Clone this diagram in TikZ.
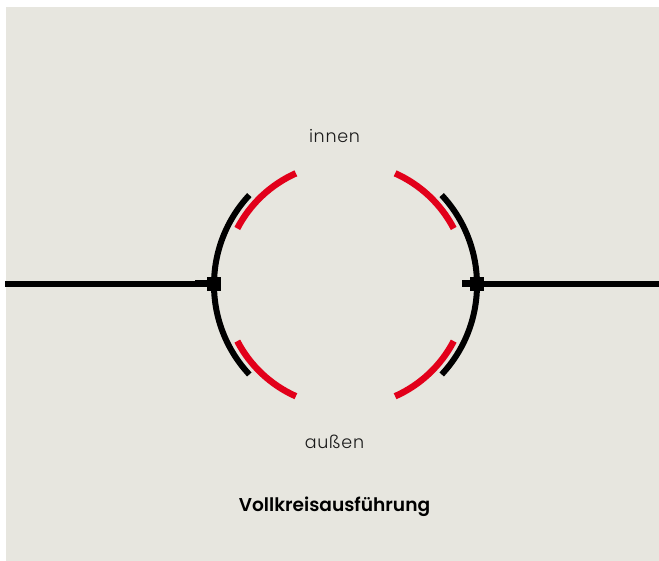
\documentclass[tikz,border=0pt]{standalone}
\usepackage{fontspec}
\setmainfont{Poppins}
\newfontfamily\lightfont[LetterSpace=4]{Poppins Light}
\newfontfamily\boldfont{Poppins SemiBold}
\definecolor{panel}{HTML}{E7E6DF}
\definecolor{redarc}{HTML}{E2001A}
\definecolor{ink}{HTML}{000000}
\definecolor{txt}{HTML}{1A1A1A}
\tikzset{
  blackarc/.style={draw=ink,line width=6pt,line cap=butt},
  redseg/.style={draw=redarc,line width=6.5pt,line cap=butt},
  pipe/.style={draw=ink,line width=6.4pt,shorten <=-1pt,shorten >=-1pt},
  stub/.style={draw=ink,line width=7pt,shorten >=-1pt},
  joint/.style={fill=ink,inner sep=0pt,minimum size=14pt,draw=none},
  lightlabel/.style={font=\lightfont\fontsize{17.5}{18}\selectfont,text=txt,inner sep=0pt},
  titlelabel/.style={font=\boldfont\fontsize{18.6}{20}\selectfont,text=ink,inner sep=0pt}
}
\begin{document}
\begin{tikzpicture}[x=1pt,y=1pt]
\useasboundingbox (0,0) rectangle (659,561);
\fill[panel] (6,0) rectangle (659,554);
\coordinate (c) at (345.5,276.2);
% black arcs
\draw[blackarc] ([shift={(137:131.5)}]c) arc[start angle=137,end angle=223,radius=131.5pt];
\draw[blackarc] ([shift={(43:131.5)}]c) arc[start angle=43,end angle=-43,radius=131.5pt];
% red arcs
\draw[redseg] ([shift={(114:122)}]c) arc[start angle=114,end angle=152.5,radius=122pt];
\draw[redseg] ([shift={(66:122)}]c) arc[start angle=66,end angle=27.5,radius=122pt];
\draw[redseg] ([shift={(207.5:122)}]c) arc[start angle=207.5,end angle=246,radius=122pt];
\draw[redseg] ([shift={(-27.5:122)}]c) arc[start angle=-27.5,end angle=-66,radius=122pt];
% joints and pipes
\node[joint] (jl) at (214,277) {};
\node[joint] (jr) at (476.5,277) {};
\coordinate (pl) at (6,277);
\coordinate (pr) at (659,277);
\coordinate (sl) at (195,277);
\coordinate (sr) at (462,277);
\draw[pipe] (pl) -- (jl);
\draw[pipe] (jr) -- (pr);
\draw[stub] (sl) -- (jl);
\draw[stub] (sr) -- (jr);
% labels
\node[lightlabel] (inn) at (334.5,424.6) {innen};
\node[lightlabel] (aus) at (334.5,119.6) {außen};
\node[titlelabel] (ttl) at (334.5,54) {Vollkreisausführung};
\end{tikzpicture}
\end{document}
